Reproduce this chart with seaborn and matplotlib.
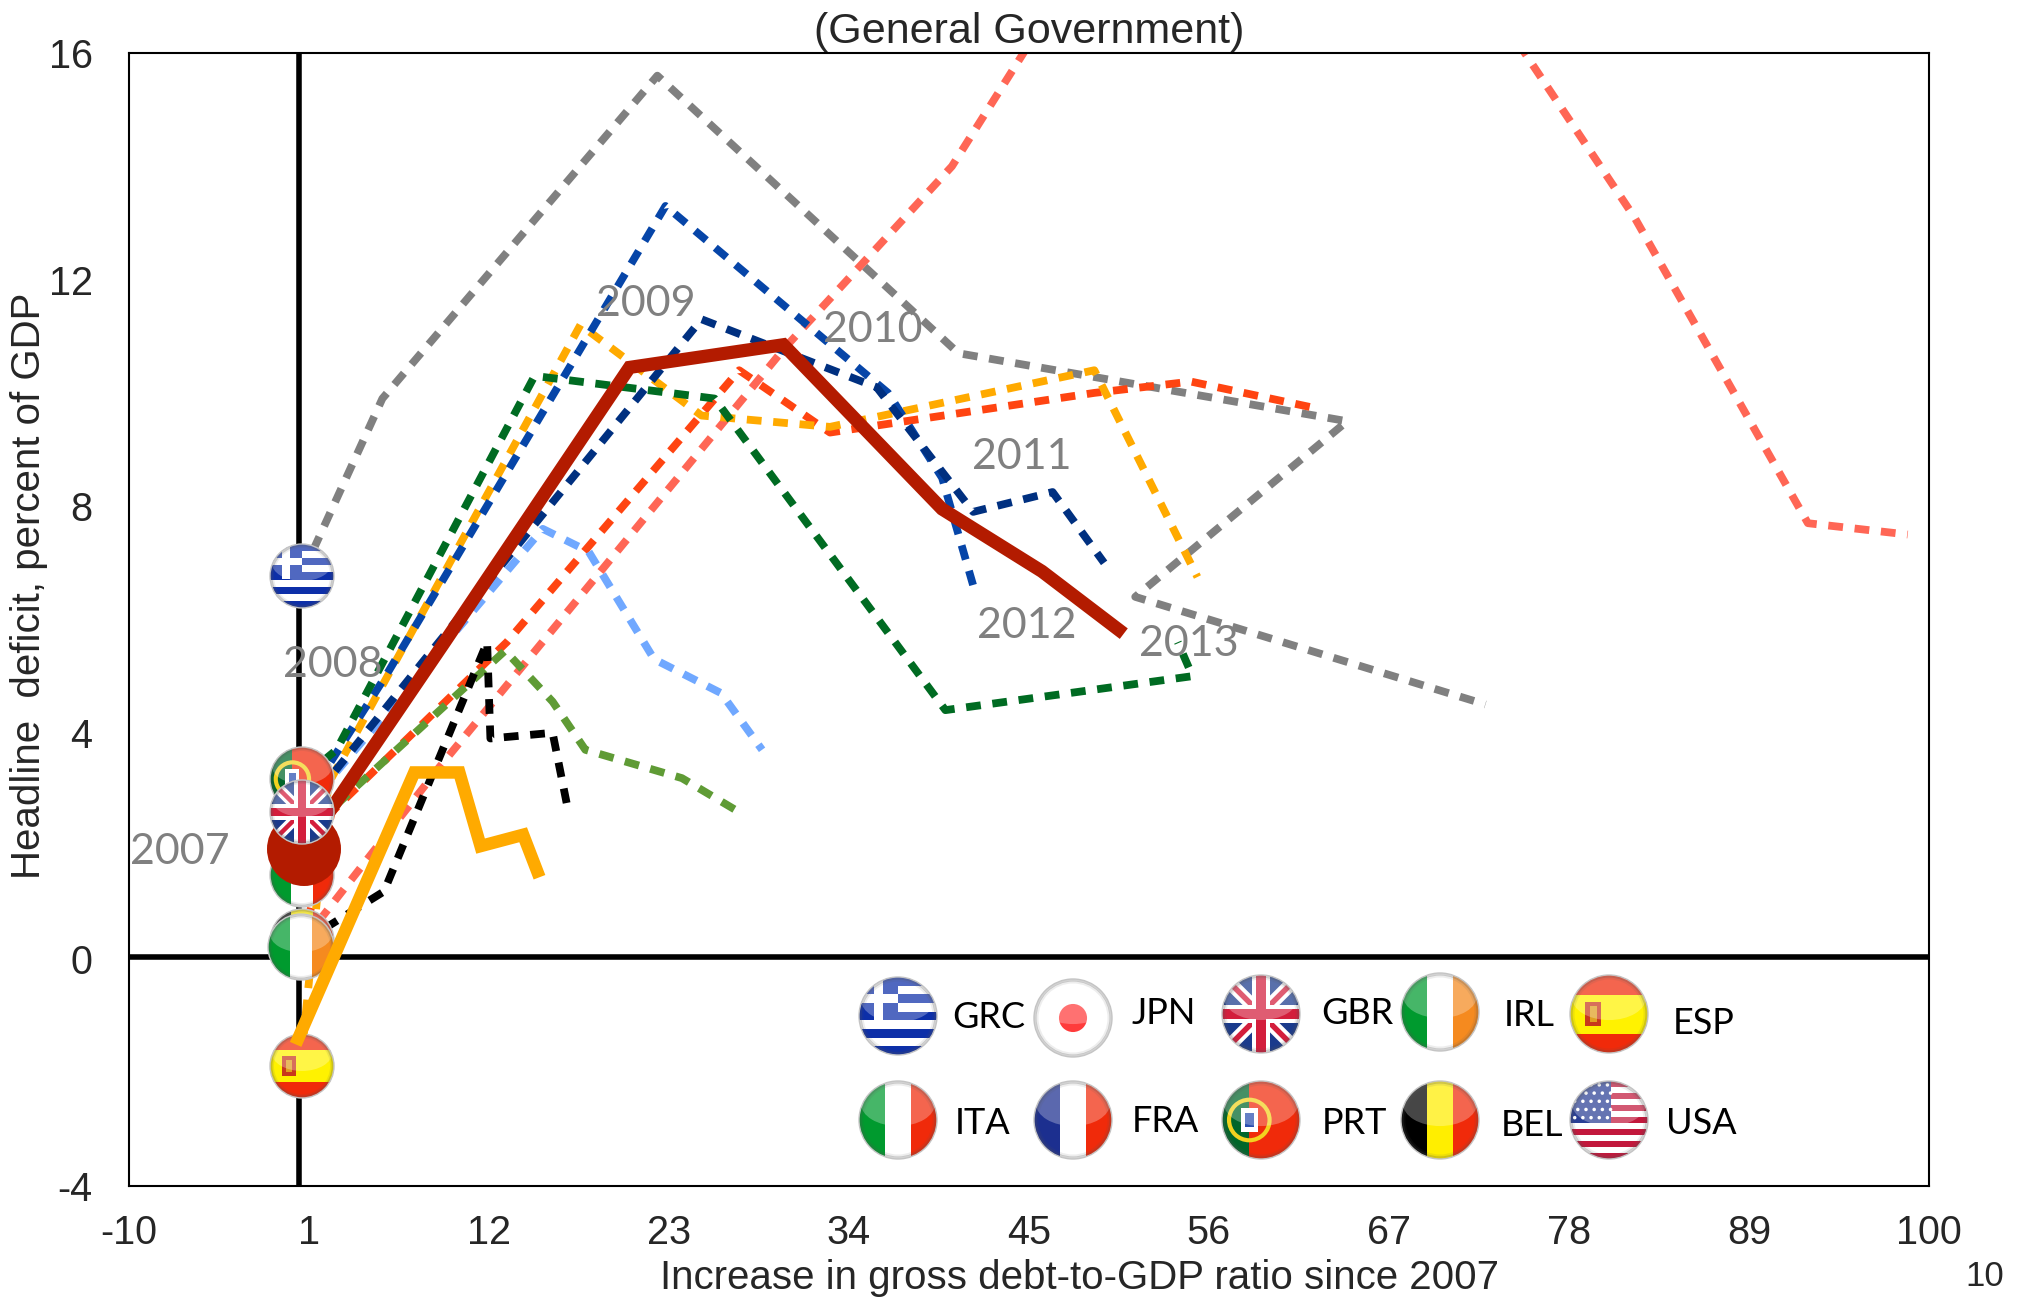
import matplotlib
matplotlib.use("Agg")
import matplotlib.pyplot as plt
import matplotlib.patches as mp
from matplotlib.transforms import Affine2D
import seaborn as sns

# === Data ===
grc_x = [0.6, 5.5, 22.3, 40.7, 64.45, 51.5, 72.9]
grc_y = [6.8, 9.9, 15.6, 10.7, 9.5, 6.4, 4.5]
jpn_x = [0.6, 9.0, 30.1, 40.3, 49.7, 68.6, 82.0, 92.6, 98.7]
jpn_y = [0.3, 3.4, 10.8, 14.0, 18.3, 18.9, 13.1, 7.7, 7.5]
gbr_x = [0.6, 8.1, 25.0, 35.7, 41.6, 46.45, 49.6]
gbr_y = [2.6, 5.3, 11.3, 10.1, 7.9, 8.25, 7.0]
usa_x = [0.6, 5.7, 22.8, 36.4, 39.7, 41.7]
usa_y = [2.7, 5.0, 13.3, 10.0, 8.5, 6.5]
prt_x = [0.6, 2.7, 14.8, 25.8, 39.9, 55.0, 54.1]
prt_y = [3.2, 3.7, 10.3, 9.9, 4.4, 5.0, 5.6]
esp_x = [0.5, 2.2, 17.6, 25.0, 32.85, 49.0, 55.3]
esp_y = [-1.9, 3.1, 11.2, 9.6, 9.4, 10.4, 6.75]
irl_x = [0.6, 2.4, 13.1, 27.3, 32.85, 49.0, 54.9, 62.2]
irl_y = [0.2, 2.6, 5.6, 10.4, 9.3, 10.0, 10.2, 9.75]
ita_x = [0.6, 2.2, 13.0, 15.9, 17.9, 23.8, 27.3]
ita_y = [1.5, 2.6, 5.45, 4.55, 3.7, 3.2, 2.6]
bel_x = [0.6, 5.6, 11.9, 12.1, 15.9, 16.8]
bel_y = [0.3, 1.2, 5.6, 3.9, 4.0, 2.7]
fra_x = [0.6, 15.3, 18.1, 22.1, 26.2, 28.7]
fra_y = [2.6, 7.6, 7.2, 5.3, 4.7, 3.7]
avg_x = [0.6, 9.3, 20.6, 30.0, 39.7, 45.8, 50.8]
avg_y = [1.9, 5.6, 10.45, 10.85, 7.95, 6.85, 5.75]
orange_x = [0.2, 7.45, 10.2, 11.5, 14.1, 15.1]
orange_y = [-1.5, 3.3, 3.3, 2.0, 2.2, 1.45]

x_ticks = [-10, 1, 12, 23, 34, 45, 56, 67, 78, 89, 100]
y_ticks = [-4, 0, 4, 8, 12, 16]

dashed_series = [
    (grc_x, grc_y, "#808080"),
    (jpn_x, jpn_y, "#ff6655"),
    (irl_x, irl_y, "#ff4411"),
    (esp_x, esp_y, "#ffaa00"),
    (fra_x, fra_y, "#70a8ff"),
    (ita_x, ita_y, "#5f9b35"),
    (bel_x, bel_y, "#000000"),
    (usa_x, usa_y, "#0645a8"),
    (prt_x, prt_y, "#006b22"),
    (gbr_x, gbr_y, "#003080"),
]

year_labels = [("2007", 180, 852), ("2008", 333, 665), ("2009", 646, 304), ("2010", 873, 330),
               ("2011", 1022, 457), ("2012", 1027, 626), ("2013", 1189, 644)]

legend_flags = [("GRC", 898, 1015, 952, 1017), ("JPN", 1073, 1017, 1132, 1014),
                ("GBR", 1261, 1013, 1321, 1014), ("IRL", 1440, 1011, 1504, 1016),
                ("ESP", 1609, 1013, 1673, 1023), ("ITA", 898, 1119, 955, 1123),
                ("FRA", 1073, 1119, 1132, 1121), ("PRT", 1261, 1119, 1322, 1123),
                ("BEL", 1440, 1119, 1501, 1126), ("USA", 1609, 1119, 1666, 1123)]

# === Plot setup ===
sns.set_theme(style="white")
plt.rcParams["font.family"] = ["Liberation Sans", "DejaVu Sans"]
plt.rcParams["axes.unicode_minus"] = False

fig = plt.figure(figsize=(20.18, 12.97), dpi=100)
ax = fig.add_axes([128.7 / 2018, 1 - 1186 / 1297, (1929 - 128.7) / 2018, (1186 - 53) / 1297])

# picture pixels, y going down
pix = Affine2D().scale(1, -1).translate(0, 1297)

for xs, ys, col in dashed_series:
    sns.lineplot(x=xs, y=ys, sort=False, estimator=None, color=col, linewidth=5.6,
                 linestyle=(0, (1.9, 1.5)), ax=ax, zorder=2)
sns.lineplot(x=avg_x, y=avg_y, sort=False, estimator=None, color="#b31b00", linewidth=9.5,
             solid_capstyle="butt", solid_joinstyle="miter", ax=ax, zorder=3)
sns.lineplot(x=orange_x, y=orange_y, sort=False, estimator=None, color="#ffaa00", linewidth=9,
             solid_capstyle="butt", solid_joinstyle="miter", ax=ax, zorder=6)

ax.axhline(0.05, color="black", lw=4, zorder=1)
ax.axvline(0.38, color="black", lw=4, zorder=1)

ax.set_xlim(-10, 100)
ax.set_ylim(-4, 16)
ax.set_xticks(x_ticks)
ax.set_yticks(y_ticks)
ax.tick_params(axis="both", length=0, labelsize=28.5, pad=20)
ax.tick_params(axis="y", pad=26)
for s in ax.spines.values():
    s.set_color("black")
    s.set_linewidth(1.5)
ax.set_xlabel("Increase in gross debt-to-GDP ratio since 2007", fontsize=29)
ax.xaxis.set_label_coords(0.528, -0.064, transform=ax.transAxes)
ax.set_ylabel("Headline  deficit, percent of GDP", fontsize=29)
ax.yaxis.set_label_coords(-0.045, 0.53, transform=ax.transAxes)
ax.set_title("(General Government)", fontsize=31, pad=7)
fig.text(1985 / 2018, 1 - 1276 / 1297, "10", fontsize=25, ha="center", va="center")


# === Round glossy flags ===
def add_flag(name, cx, cy, r, z=5):
    tr = Affine2D().scale(r).translate(cx, cy) + pix + Affine2D()
    disc = mp.Circle((0, 0), 1, transform=tr, fc="white", ec="none", zorder=z, clip_on=False)
    ax.add_patch(disc)

    def put(p):
        p.set_transform(tr)
        p.set_zorder(z)
        p.set_clip_on(True)
        p.set_clip_path(disc)
        ax.add_patch(p)

    def rect(x0, y0, w, h, col):
        put(mp.Rectangle((x0, y0), w, h, fc=col, ec="none"))

    def bars(cols):
        w = 2 / len(cols)
        for i, c in enumerate(cols):
            rect(-1 + i * w, -1, w, 2, c)

    if name == "ITA":
        bars(["#009a2e", "#ffffff", "#f02a0a"])
    elif name == "FRA":
        bars(["#1c2f8f", "#ffffff", "#f02a0a"])
    elif name == "BEL":
        bars(["#000000", "#ffee00", "#f02a0a"])
    elif name == "IRL":
        bars(["#009a2e", "#ffffff", "#f58a1f"])
    elif name == "JPN":
        put(mp.Circle((0, 0), 0.36, fc="#ff3b3b", ec="none"))
    elif name == "ESP":
        rect(-1, -1, 2, 2, "#f02a0a")
        rect(-1, -0.5, 2, 1, "#fff200")
        rect(-0.62, -0.3, 0.42, 0.6, "#c8381c")
        rect(-0.5, -0.2, 0.18, 0.4, "#e0a020")
    elif name == "PRT":
        rect(-1, -1, 2, 2, "#f02a0a")
        rect(-1, -1, 0.7, 2, "#00662a")
        put(mp.Circle((-0.3, 0), 0.52, fc="none", ec="#f2d21f", lw=3))
        rect(-0.52, -0.3, 0.44, 0.6, "#ffffff")
        rect(-0.42, -0.18, 0.24, 0.36, "#2a4fb0")
    elif name == "GRC":
        rect(-1, -1, 2, 2, "#ffffff")
        for i in range(5):
            rect(-1, -1 + i * 4 / 9, 2, 2 / 9, "#0d2fa8")
        rect(-1, -1, 1.0, 1.1, "#0d2fa8")
        rect(-0.62, -1, 0.24, 1.1, "#ffffff")
        rect(-1, -0.56, 1.0, 0.22, "#ffffff")
    elif name == "USA":
        rect(-1, -1, 2, 2, "#ffffff")
        for i in range(7):
            rect(-1, -1 + i * 4 / 13, 2, 2 / 13, "#c2183c")
        rect(-1, -1, 1.05, 1.08, "#2a3f95")
        for i in range(5):
            for j in range(5):
                put(mp.Circle((-0.88 + i * 0.21 + (j % 2) * 0.08, -0.9 + j * 0.21), 0.045,
                              fc="white", ec="none"))
    elif name == "GBR":
        rect(-1, -1, 2, 2, "#1a3a8c")
        for a, lw, c in [(45, 0.34, "#ffffff"), (-45, 0.34, "#ffffff"), (45, 0.14, "#d31e3c"), (-45, 0.14, "#d31e3c")]:
            p = mp.Rectangle((-1.5, -lw / 2), 3, lw, fc=c, ec="none")
            p.set_transform(Affine2D().rotate_deg(a) + tr)
            p.set_zorder(z)
            p.set_clip_path(disc)
            ax.add_patch(p)
        rect(-0.24, -1, 0.48, 2, "#ffffff")
        rect(-1, -0.24, 2, 0.48, "#ffffff")
        rect(-0.14, -1, 0.28, 2, "#d31e3c")
        rect(-1, -0.14, 2, 0.28, "#d31e3c")

    # gloss on the upper half and a soft rim
    put(mp.Ellipse((0, -0.42), 1.9, 1.15, fc="white", ec="none", alpha=0.28))
    for rr, a in [(0.97, 0.25), (0.92, 0.1)]:
        put(mp.Circle((0, 0), rr, fc="none", ec="#555555", lw=2, alpha=a))
    ax.add_patch(mp.Circle((0, 0), 1, transform=tr, fc="none", ec="#c4c4c4", lw=1,
                           zorder=z, clip_on=False))


add_flag("BEL", 302, 941, 32, z=4.1)
add_flag("ITA", 302, 875, 32, z=4.2)
add_flag("PRT", 302, 779, 32, z=4.3)
ax.add_patch(mp.Circle((304, 849), 37, transform=pix, fc="#b31b00", ec="none", zorder=4.4, clip_on=False))
add_flag("GBR", 302, 812, 32, z=4.5)
add_flag("IRL", 301, 947, 33, z=4.6)
add_flag("GRC", 302, 576, 32, z=4.7)
add_flag("ESP", 302, 1066, 32, z=4.8)

for name, fx, fy, tx, ty in legend_flags:
    add_flag(name, fx, fy + 1, 39, z=5)
    ax.text(tx, ty, name, transform=pix, fontsize=26, family="Lato", color="black",
            ha="left", va="center", zorder=7, clip_on=False)

for lab, tx, ty in year_labels:
    ax.text(tx, ty, lab, transform=pix, fontsize=31, family="Lato", color="#808080",
            ha="center", va="center", zorder=7, clip_on=False)

fig.savefig("out.png", dpi=100)
